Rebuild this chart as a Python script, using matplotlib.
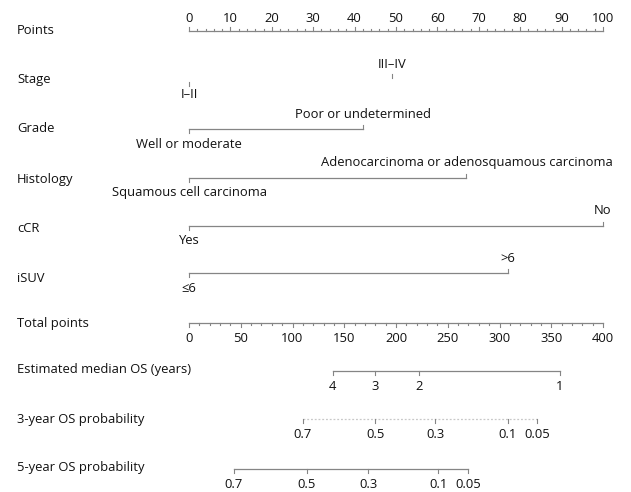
import matplotlib
matplotlib.use("Agg")
import matplotlib.pyplot as plt

plt.rcParams["font.family"] = ["Open Sans", "DejaVu Sans"]

# ---- nomogram data -------------------------------------------------------
points_ticks = list(range(0, 101, 10))
points_minor = list(range(0, 101, 2))

stage_levels = ["I–II", "III–IV"]
stage_points = [0, 49]

grade_levels = ["Well or moderate", "Poor or undetermined"]
grade_points = [0, 42]

histology_levels = ["Squamous cell carcinoma",
                    "Adenocarcinoma or adenosquamous carcinoma"]
histology_points = [0, 67]

ccr_levels = ["Yes", "No"]
ccr_points = [0, 100]

isuv_levels = ["≤6", ">6"]
isuv_points = [0, 77]

total_ticks = list(range(0, 401, 50))
total_minor = list(range(0, 401, 10))

median_os_labels = ["4", "3", "2", "1"]
median_os_total = [139, 180, 222, 358]

os3_labels = ["0.7", "0.5", "0.3", "0.1", "0.05"]
os3_total = [110, 180, 238, 308, 336]

os5_labels = ["0.7", "0.5", "0.3", "0.1", "0.05"]
os5_total = [43, 114, 173, 241, 270]

row_names = ["Points", "Stage", "Grade", "Histology", "cCR", "iSUV",
             "Total points", "Estimated median OS (years)",
             "3-year OS probability", "5-year OS probability"]

# ---- layout ----------------------------------------------------------------
W, H = 631, 492
X0, X1 = 189, 603            # pixel span of the 0–100 points scale
scale = (X1 - X0) / 100.0
row_y = [30, 79, 129, 179, 228, 278, 323, 369, 419, 468]
line_col = "#858585"
txt_col = "#111111"
fs = 9.4

fig = plt.figure(figsize=(W / 100, H / 100), dpi=100)
ax = fig.add_axes([0, 0, 1, 1])
ax.set_xlim(-X0 / scale, (W - X0) / scale)
ax.set_ylim(H, 0)
ax.axis("off")

label_x = -X0 / scale + 17 / scale
for name, y in zip(row_names, row_y):
    ax.text(label_x, y, name, fontsize=fs, va="center", ha="left",
            color=txt_col)


def tot(v):
    return v / 4.0


# Points scale: line with ticks pointing up, numbers above
y = 31
ax.plot([0, 100], [y, y], color=line_col, lw=0.9)
for p in points_minor:
    h = 4 if p % 10 == 0 else 2
    ax.plot([p, p], [y, y - h], color=line_col, lw=0.8)
for p in points_ticks:
    ax.text(p, y - 13, str(p), fontsize=fs, ha="center", va="center",
            color=txt_col)


def variable_row(y, levels, pts, draw_line=True):
    lo, hi = pts
    if draw_line:
        ax.plot([lo, hi], [y, y], color=line_col, lw=0.9)
        ax.plot([lo, lo], [y, y + 4], color=line_col, lw=0.8)
        ax.plot([hi, hi], [y, y - 4], color=line_col, lw=0.8)
    else:
        ax.plot([lo, lo], [y + 2, y + 6], color=line_col, lw=0.8)
        ax.plot([hi, hi], [y - 2, y - 6], color=line_col, lw=0.8)
    ax.text(lo, y + 15, levels[0], fontsize=fs, ha="center", va="center",
            color=txt_col)
    ax.text(hi, y - 15, levels[1], fontsize=fs, ha="center", va="center",
            color=txt_col)


variable_row(80, stage_levels, stage_points, draw_line=False)
variable_row(129, grade_levels, grade_points)
variable_row(177.5, histology_levels, histology_points)
variable_row(226, ccr_levels, ccr_points)
variable_row(273, isuv_levels, isuv_points)

# Total points scale: ticks down, numbers below
y = 322.5
ax.plot([0, 100], [y, y], color=line_col, lw=0.9)
for t in total_minor:
    h = 4 if t % 50 == 0 else 2
    ax.plot([tot(t), tot(t)], [y, y + h], color=line_col, lw=0.8)
for t in total_ticks:
    ax.text(tot(t), y + 16, str(t), fontsize=fs, ha="center", va="center",
            color=txt_col)


def outcome_row(y, labels, totals, faint=False):
    xs = [tot(t) for t in totals]
    ls = (0, (1.5, 1.5)) if faint else "-"
    col = "#c8c8c8" if faint else line_col
    ax.plot([min(xs), max(xs)], [y, y], color=col, lw=0.9, linestyle=ls)
    for x, lab in zip(xs, labels):
        ax.plot([x, x], [y, y + 4], color=line_col, lw=0.8)
        ax.text(x, y + 16, lab, fontsize=fs, ha="center", va="center",
                color=txt_col)


outcome_row(370.5, median_os_labels, median_os_total)
outcome_row(419, os3_labels, os3_total, faint=True)
outcome_row(469, os5_labels, os5_total)

fig.savefig("out.png", dpi=100)
